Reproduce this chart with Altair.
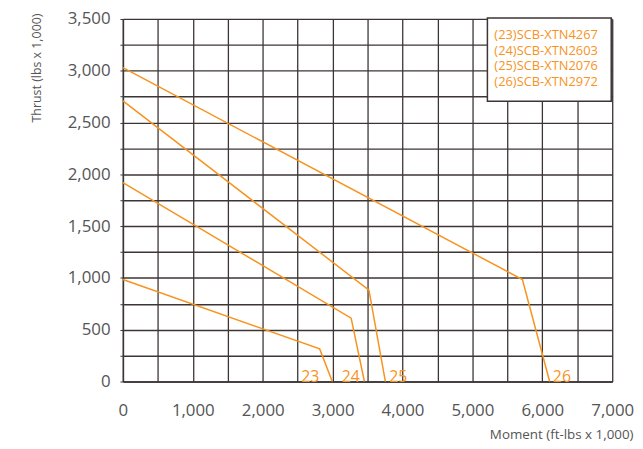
import altair as alt
import pandas as pd

series = ["23", "24", "25", "26"]
models = ["SCB-XTN4267", "SCB-XTN2603", "SCB-XTN2076", "SCB-XTN2972"]
thrust_start = [985, 1920, 2710, 3030]
break_moment = [2815, 3265, 3520, 5715]
break_thrust = [315, 612, 882, 985]
end_moment = [2995, 3455, 3755, 6105]
label_moment = [2680, 3260, 3940, 6280]

x_ticks = list(range(0, 7001, 500))
y_ticks = list(range(0, 3501, 250))

ORANGE = "#f7931e"
GRID = "#3d3535"
FONT = "Open Sans"

rows = []
for s, t0, bm, bt, em in zip(series, thrust_start, break_moment, break_thrust, end_moment):
    rows += [
        {"s": s, "o": 0, "m": 0, "t": t0},
        {"s": s, "o": 1, "m": bm, "t": bt},
        {"s": s, "o": 2, "m": em, "t": 0},
    ]
df = pd.DataFrame(rows)
lab = pd.DataFrame({"s": series, "m": label_moment, "t": [0] * 4})
legend_lines = [f"({s}){m}" for s, m in zip(series, models)]

xs = alt.Scale(domain=[0, 7000], nice=False)
ys = alt.Scale(domain=[0, 3500], nice=False)

x_axis = alt.Axis(
    values=x_ticks,
    labelExpr="datum.value % 1000 == 0 ? format(datum.value, ',') : ''",
    title="Moment (ft-lbs x 1,000)",
    titleX=515, titleY=54, titleAlign="right", titleBaseline="middle",
    titleFont=FONT, titleFontSize=13.5, titleFontWeight="normal", titleColor="#555555",
    labelFont=FONT, labelFontSize=17, labelColor="#555555", labelPadding=21,
    labelFlush=False,
    grid=True, gridColor=GRID, gridWidth=1.3, gridOpacity=1,
    domainColor=GRID, domainWidth=1.5, ticks=False, labelOverlap=False,
)
y_axis = alt.Axis(
    values=y_ticks,
    labelExpr="datum.value % 500 == 0 ? format(datum.value, ',') : ''",
    title="Thrust (lbs x 1,000)",
    titleX=-87, titleY=49, titleAngle=-90, titleAlign="center", titleBaseline="middle",
    titleFont=FONT, titleFontSize=12.5, titleFontWeight="normal", titleColor="#555555",
    labelFont=FONT, labelFontSize=17, labelColor="#555555", labelPadding=10,
    labelFlush=False,
    grid=True, gridColor=GRID, gridWidth=1.3, gridOpacity=1,
    domainColor=GRID, domainWidth=1.5, tickSize=3, tickColor=GRID, labelOverlap=False,
)

lines = alt.Chart(df).mark_line(color=ORANGE, strokeWidth=1.5).encode(
    x=alt.X("m:Q", scale=xs, axis=x_axis),
    y=alt.Y("t:Q", scale=ys, axis=y_axis),
    detail="s:N",
    order="o:Q",
)

labels = alt.Chart(lab).mark_text(
    color=ORANGE, font=FONT, fontSize=16, baseline="bottom", align="center", dy=3
).encode(
    x=alt.X("m:Q", scale=xs, axis=x_axis),
    y=alt.Y("t:Q", scale=ys, axis=y_axis),
    text="s:N",
)

box = alt.Chart(pd.DataFrame({"a": [0]})).mark_rect(
    fill="white", stroke=GRID, strokeWidth=1.5
).encode(x=alt.value(368), x2=alt.value(493), y=alt.value(-1), y2=alt.value(83))

leg_layers = []
for i, line in enumerate(legend_lines):
    leg_layers.append(
        alt.Chart(pd.DataFrame({"a": [0]})).mark_text(
            color=ORANGE, font=FONT, fontSize=13, align="left", baseline="middle", text=line,
        ).encode(x=alt.value(375), y=alt.value(16 + 16 * i))
    )

chart = alt.layer(lines, labels, box, *leg_layers).properties(
    width=494, height=366,
    autosize=alt.AutoSizeParams(type="none"),
    padding={"left": 116, "top": 9, "right": 23, "bottom": 60},
).configure_view(stroke=None).configure(background="white")

chart.save("out.html", embed_options={"renderer": "svg", "actions": False})
